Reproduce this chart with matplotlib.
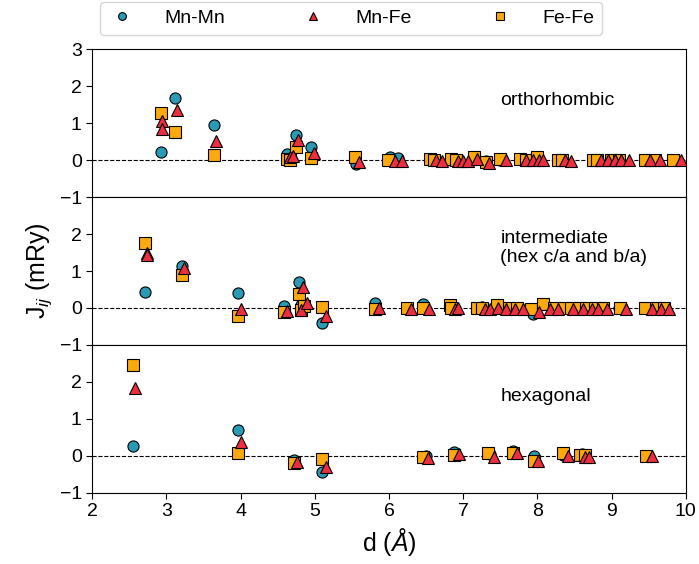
import numpy as np
import matplotlib
matplotlib.use("Agg")
import matplotlib.pyplot as plt

plt.rcParams['font.family'] = ['Liberation Sans', 'DejaVu Sans']
plt.rcParams['mathtext.fontset'] = 'custom'
plt.rcParams['mathtext.rm'] = 'Liberation Sans'
plt.rcParams['mathtext.it'] = 'Liberation Sans:italic'

# orthorhombic
orth_mnmn_d = [2.92, 3.11, 3.64, 4.62, 4.74, 4.95, 5.56, 6.02, 6.12, 6.57, 6.84, 7.14,
               7.31, 7.50, 7.79, 7.99, 8.28, 8.75, 9.04, 9.45, 9.83]
orth_mnmn_J = [0.22, 1.68, 0.94, 0.16, 0.68, 0.34, -0.10, 0.08, 0.05, 0.02, 0.00, 0.05,
               -0.03, 0.00, 0.02, 0.03, 0.00, 0.00, 0.00, 0.00, 0.00]
orth_mnfe_d = [2.94, 2.94, 3.14, 3.67, 4.66, 4.71, 4.78, 4.99, 5.60, 6.08, 6.17, 6.64,
               6.71, 6.93, 7.00, 7.07, 7.19, 7.35, 7.58, 7.85, 7.94, 8.02, 8.08, 8.37,
               8.46, 8.86, 8.95, 9.04, 9.13, 9.24, 9.52, 9.65, 9.94]
orth_mnfe_J = [1.06, 0.83, 1.35, 0.51, 0.08, 0.10, 0.54, 0.18, -0.05, -0.02, -0.02, -0.01,
               -0.02, -0.02, -0.02, -0.02, 0.04, -0.08, -0.01, -0.01, -0.01, -0.01, -0.01, -0.01,
               -0.02, -0.01, -0.01, -0.01, -0.01, -0.01, -0.01, -0.01, -0.01]
orth_fefe_d = [2.92, 3.11, 3.64, 4.62, 4.66, 4.74, 4.95, 5.54, 5.99, 6.55, 6.60, 6.84,
               6.91, 7.14, 7.31, 7.50, 7.76, 7.85, 7.99, 8.28, 8.33, 8.75, 8.80, 8.99,
               9.10, 9.45, 9.58, 9.83]
orth_fefe_J = [1.28, 0.77, 0.14, 0.02, 0.00, 0.36, 0.05, 0.07, 0.00, 0.02, 0.01, 0.02,
               0.01, 0.09, -0.05, 0.02, 0.02, 0.01, 0.08, 0.01, 0.00, 0.01, 0.01, 0.01,
               0.01, 0.01, 0.01, 0.01]

# intermediate (hex c/a and b/a)
int_mnmn_d = [2.71, 3.21, 3.97, 4.59, 4.79, 4.81, 5.10, 5.81, 6.46, 6.82, 7.25, 7.94,
              8.50, 9.10, 9.50]
int_mnmn_J = [0.42, 1.14, 0.41, 0.05, 0.69, 0.08, -0.41, 0.13, 0.12, 0.03, 0.02, -0.15,
              0.00, 0.00, 0.00]
int_mnfe_d = [2.74, 2.74, 3.24, 4.00, 4.63, 4.84, 4.82, 4.90, 5.15, 5.87, 6.30, 6.54,
              6.89, 6.93, 7.29, 7.36, 7.47, 7.58, 7.70, 7.80, 8.02, 8.17, 8.28, 8.48,
              8.61, 8.73, 8.82, 8.94, 9.20, 9.54, 9.67, 9.78]
int_mnfe_J = [1.50, 1.42, 1.09, -0.04, -0.08, 0.57, -0.05, 0.13, -0.23, 0.00, -0.02, -0.02,
              -0.02, -0.01, -0.02, -0.02, -0.01, -0.02, -0.02, -0.02, -0.10, -0.02, -0.02, -0.02,
              -0.02, -0.02, -0.02, -0.02, -0.02, -0.02, -0.02, -0.02]
int_fefe_d = [2.71, 3.21, 3.97, 4.59, 4.79, 4.81, 4.86, 5.10, 5.81, 6.24, 6.46, 6.82,
              6.84, 7.18, 7.25, 7.45, 7.62, 7.72, 7.92, 8.08, 8.22, 8.36, 8.45, 8.56,
              8.66, 8.78, 8.88, 9.11, 9.45, 9.60, 9.71]
int_fefe_J = [1.75, 0.89, -0.21, -0.12, 0.37, -0.05, 0.05, 0.02, -0.03, 0.00, 0.00, 0.09,
              0.00, 0.00, 0.00, 0.08, 0.00, 0.00, -0.03, 0.10, 0.00, 0.00, 0.00, 0.00,
              0.00, 0.00, 0.00, 0.00, 0.00, 0.00, 0.00]

# hexagonal
hex_mnmn_d = [2.55, 3.97, 4.72, 5.10, 6.50, 6.88, 7.36, 7.67, 7.95, 8.35, 8.60, 9.46]
hex_mnmn_J = [0.28, 0.70, -0.10, -0.44, 0.00, 0.12, 0.05, 0.14, 0.00, 0.03, 0.05, 0.00]
hex_mnfe_d = [2.57, 4.00, 4.76, 5.15, 6.53, 6.95, 7.41, 7.73, 8.01, 8.41, 8.64, 8.70, 9.54]
hex_mnfe_J = [1.83, 0.37, -0.17, -0.30, -0.06, 0.04, -0.02, 0.07, -0.13, 0.00, -0.02, -0.02, 0.00]
hex_fefe_d = [2.55, 3.97, 4.72, 5.10, 6.46, 6.88, 7.34, 7.67, 7.95, 8.35, 8.57, 8.64, 9.46]
hex_fefe_J = [2.46, 0.07, -0.20, -0.09, -0.02, 0.03, 0.07, 0.07, -0.13, 0.07, 0.03, 0.02, 0.00]

panels = [
    ("orthorhombic", orth_mnmn_d, orth_mnmn_J, orth_mnfe_d, orth_mnfe_J, orth_fefe_d, orth_fefe_J),
    ("intermediate\n(hex c/a and b/a)", int_mnmn_d, int_mnmn_J, int_mnfe_d, int_mnfe_J, int_fefe_d, int_fefe_J),
    ("hexagonal", hex_mnmn_d, hex_mnmn_J, hex_mnfe_d, hex_mnfe_J, hex_fefe_d, hex_fefe_J),
]

c_mnmn = '#2a9bb4'
c_mnfe = '#ec2f3e'
c_fefe = '#fba90c'

fig, axes = plt.subplots(3, 1, sharex=True, figsize=(6.99, 5.64), dpi=100)
fig.subplots_adjust(left=0.132, right=0.981, top=0.913, bottom=0.126, hspace=0)

ms = 8
for i, (ax, (name, d1, j1, d2, j2, d3, j3)) in enumerate(zip(axes, panels)):
    ax.axhline(0, color='k', ls='--', lw=0.8, zorder=1)
    ax.plot(d1, j1, 'o', ms=ms, mfc=c_mnmn, mec='k', mew=0.8, zorder=2, label='Mn-Mn')
    ax.plot(d2, j2, '^', ms=ms, mfc=c_mnfe, mec='k', mew=0.8, zorder=4, label='Mn-Fe')
    ax.plot(d3, j3, 's', ms=ms, mfc=c_fefe, mec='k', mew=0.8, zorder=3, label='Fe-Fe')
    ax.text(7.5, 1.62, name, fontsize=14, va='center', ha='left')
    ax.set_ylim(-1, 3)
    if i == 0:
        ax.set_yticks([-1, 0, 1, 2, 3])
    else:
        ax.set_yticks([-1, 0, 1, 2])
    ax.tick_params(direction='out', labelsize=14, length=4)
    for s in ax.spines.values():
        s.set_color('k')

axes[-1].set_xlim(2, 10)
axes[-1].set_xticks(np.arange(2, 11, 1))
axes[-1].set_xlabel('d ($Å$)', fontsize=18)
axes[1].set_ylabel('J$_{ij}$ (mRy)', fontsize=18)

handles, labels = axes[0].get_legend_handles_labels()
fig.legend(handles, labels, loc='lower left', ncol=3, mode='expand',
           bbox_to_anchor=(0.143, 0.938, 0.718, 0.05), fontsize=14,
           markerscale=0.7, borderaxespad=0.0, handlelength=1.5, handletextpad=1.4)

plt.savefig('out.png', dpi=100)
